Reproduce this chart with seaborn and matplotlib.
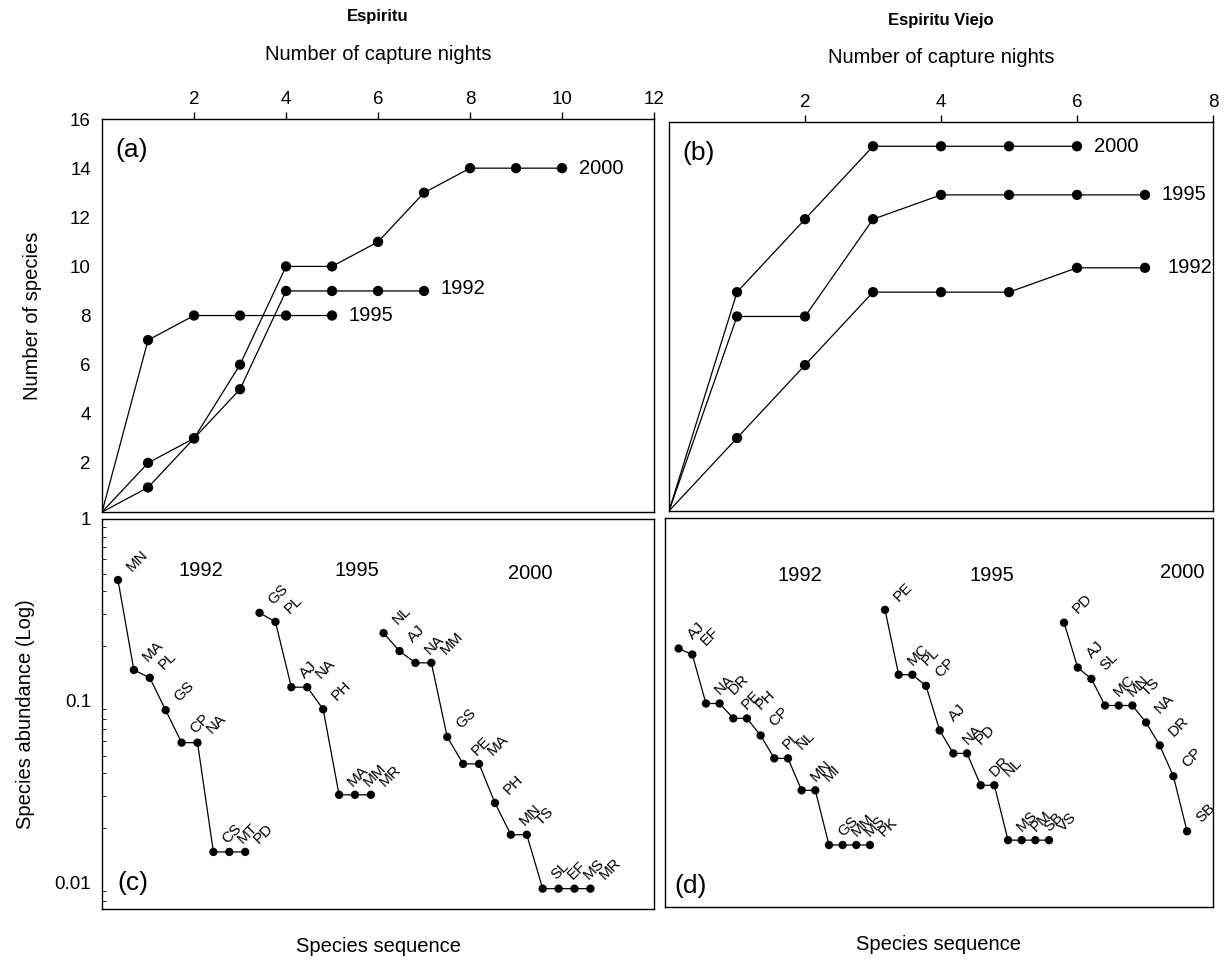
import numpy as np
import pandas as pd
import matplotlib
matplotlib.use("Agg")
import matplotlib.pyplot as plt
import seaborn as sns

# Panel (a) - Espiritu, cumulative number of species per capture night
a_1992 = [0, 1, 3, 5, 9, 9, 9, 9]
a_1995 = [0, 7, 8, 8, 8, 8]
a_2000 = [0, 2, 3, 6, 10, 10, 11, 13, 14, 14, 14]

# Panel (b) - Espiritu Viejo
b_1992 = [0, 3, 6, 9, 9, 9, 10, 10]
b_1995 = [0, 8, 8, 12, 13, 13, 13, 13]
b_2000 = [0, 9, 12, 15, 15, 15, 15]

# Panel (c) - Espiritu, rank abundance
c_1992_sp = ["MN", "MA", "PL", "GS", "CP", "NA", "CS", "MT", "PD"]
c_1992_ab = [0.462, 0.148, 0.134, 0.089, 0.059, 0.059, 0.0148, 0.0148, 0.0148]
c_1995_sp = ["GS", "PL", "AJ", "NA", "PH", "MA", "MM", "MR"]
c_1995_ab = [0.305, 0.272, 0.119, 0.119, 0.090, 0.0305, 0.0305, 0.0305]
c_2000_sp = ["NL", "AJ", "NA", "MM", "GS", "PE", "MA", "PH", "MN", "TS",
             "SL", "EF", "MS", "MR"]
c_2000_ab = [0.236, 0.188, 0.162, 0.162, 0.0634, 0.0451, 0.0451, 0.0275,
             0.0184, 0.0184, 0.0093, 0.0093, 0.0093, 0.0093]

# Panel (d) - Espiritu Viejo, rank abundance
d_1992_sp = ["AJ", "EF", "NA", "DR", "PE", "PH", "CP", "PL", "NL", "MN", "MI",
             "GS", "MM", "MS", "PK"]
d_1992_ab = [0.191, 0.177, 0.0951, 0.0951, 0.0787, 0.0787, 0.0634, 0.0474,
             0.0474, 0.0316, 0.0316, 0.0158, 0.0158, 0.0158, 0.0158]
d_1995_sp = ["PE", "MC", "PL", "CP", "AJ", "NA", "PD", "DR", "NL", "MS", "PM",
             "SB", "VS"]
d_1995_ab = [0.312, 0.137, 0.137, 0.119, 0.0676, 0.0505, 0.0505, 0.0337,
             0.0337, 0.0168, 0.0168, 0.0168, 0.0168]
d_2000_sp = ["PD", "AJ", "SL", "MC", "MN", "TS", "NA", "DR", "CP", "SB"]
d_2000_ab = [0.265, 0.150, 0.130, 0.0927, 0.0927, 0.0927, 0.0748, 0.0559,
             0.0378, 0.0188]

years = ["1992", "1995", "2000"]
# first position of each year's sequence along the species axis
c_start = [1.0, 9.9, 17.7]
d_start = [1.0, 16.1, 29.2]


def nights_frame(series):
    rows = []
    for yr, vals in zip(years, series):
        for n, v in enumerate(vals):
            rows.append({"night": n, "species": v, "year": yr})
    return pd.DataFrame(rows)


def rank_frame(species, abund, starts):
    rows = []
    for yr, sp, ab, s0 in zip(years, species, abund, starts):
        for i, (name, v) in enumerate(zip(sp, ab)):
            rows.append({"pos": s0 + i, "abund": v, "code": name, "year": yr})
    return pd.DataFrame(rows)


df_a = nights_frame([a_1992, a_1995, a_2000])
df_b = nights_frame([b_1992, b_1995, b_2000])
df_c = rank_frame([c_1992_sp, c_1995_sp, c_2000_sp],
                  [c_1992_ab, c_1995_ab, c_2000_ab], c_start)
df_d = rank_frame([d_1992_sp, d_1995_sp, d_2000_sp],
                  [d_1992_ab, d_1995_ab, d_2000_ab], d_start)

sns.set_style("white")
plt.rcParams["font.family"] = ["Liberation Sans", "DejaVu Sans"]
plt.rcParams["axes.edgecolor"] = "black"
plt.rcParams["axes.linewidth"] = 1.0
for key in ["text.color", "axes.labelcolor", "xtick.color", "ytick.color"]:
    plt.rcParams[key] = "black"

fig = plt.figure(figsize=(12.28, 9.67), dpi=100)
ax_a = fig.add_axes([0.0831, 0.4705, 0.4495, 0.4064])
ax_b = fig.add_axes([0.5448, 0.4716, 0.4430, 0.4023])
ax_c = fig.add_axes([0.0831, 0.0600, 0.4495, 0.4033])
ax_d = fig.add_axes([0.5415, 0.0620, 0.4463, 0.4023])

TICK_FS = 13.5
LAB_FS = 14.5

# ---- top panels: accumulation curves
for ax, df, xmax, title in [(ax_a, df_a, 12, "Espiritu"),
                            (ax_b, df_b, 8, "Espiritu Viejo")]:
    sns.lineplot(data=df, x="night", y="species", units="year", estimator=None,
                 sort=False, color="black", lw=0.9, ax=ax, legend=False)
    sns.scatterplot(data=df[df["night"] > 0], x="night", y="species",
                    color="black", s=55, edgecolor="none", ax=ax,
                    legend=False, zorder=3)
    ax.set_xlim(0, xmax)
    ax.set_ylim(0, 16)
    ax.xaxis.tick_top()
    ax.set_xticks(np.arange(2, xmax + 1, 2))
    ax.tick_params(axis="x", direction="out", length=5, width=1,
                   labelsize=TICK_FS, pad=3)
    ax.set_xlabel("")
    ax.text(0.5, 1.165, "Number of capture nights", transform=ax.transAxes,
            ha="center", va="center", fontsize=LAB_FS)
    ax.text(0.5, 1.262, title, transform=ax.transAxes, ha="center",
            va="center", fontsize=12, fontweight="bold")
    # year tags at the end of each curve
    for yr in years:
        last = df[df["year"] == yr].iloc[-1]
        dx = 16 if (ax is ax_b and yr == "1992") else 12
        dy = 2 if (ax is ax_a and yr == "1992") else 0
        ax.annotate(yr, (last["night"], last["species"]), xytext=(dx, dy),
                    textcoords="offset points", ha="left", va="center",
                    fontsize=LAB_FS)

ax_a.set_yticks(np.arange(2, 17, 2))
ax_a.tick_params(axis="y", direction="out", length=5, width=1,
                 labelsize=TICK_FS, pad=3)
ax_a.set_ylabel("Number of species", fontsize=LAB_FS, labelpad=20)
ax_b.set_yticks([])
ax_b.set_ylabel("")

ax_a.text(0.025, 0.92, "(a)", transform=ax_a.transAxes, ha="left",
          va="center", fontsize=19)
ax_b.text(0.025, 0.92, "(b)", transform=ax_b.transAxes, ha="left",
          va="center", fontsize=19)

# ---- bottom panels: rank-abundance sequences
year_pos_c = [(0.179, 0.869), (0.462, 0.869), (0.775, 0.859)]
year_pos_d = [(0.246, 0.851), (0.597, 0.853), (0.943, 0.859)]

for ax, df, xmax, ypos in [(ax_c, df_c, 34.7, year_pos_c),
                           (ax_d, df_d, 40.1, year_pos_d)]:
    sns.lineplot(data=df, x="pos", y="abund", units="year", estimator=None,
                 sort=False, color="black", lw=0.9, ax=ax, legend=False)
    sns.scatterplot(data=df, x="pos", y="abund", color="black", s=36,
                    edgecolor="none", ax=ax, legend=False, zorder=3)
    ax.set_yscale("log")
    ax.set_ylim(0.00719, 1.0)
    ax.set_xlim(0, xmax)
    ax.set_xticks([])
    ax.set_xlabel("Species sequence", fontsize=LAB_FS, labelpad=20)
    for _, r in df.iterrows():
        ax.annotate(r["code"], (r["pos"], r["abund"]), xytext=(8, 8),
                    textcoords="offset points", rotation=45,
                    rotation_mode="anchor", ha="left", va="center",
                    fontsize=11)
    for yr, (tx, ty) in zip(years, ypos):
        ax.text(tx, ty, yr, transform=ax.transAxes, ha="center",
                va="center", fontsize=LAB_FS)

ax_c.set_yticks([1, 0.1, 0.01])
ax_c.set_yticklabels(["1", "0.1", "0.01"])
ax_c.tick_params(axis="y", which="major", direction="out", length=5, width=1,
                 labelsize=TICK_FS, pad=3)
ax_c.tick_params(axis="y", which="minor", direction="in", length=3,
                 width=0.6, left=True)
ax_c.set_ylabel("Species abundance (Log)", fontsize=LAB_FS, labelpad=14)
ax_d.set_yticks([])
ax_d.minorticks_off()
ax_d.set_ylabel("")

ax_c.text(0.028, 0.067, "(c)", transform=ax_c.transAxes, ha="left",
          va="center", fontsize=19)
ax_d.text(0.018, 0.054, "(d)", transform=ax_d.transAxes, ha="left",
          va="center", fontsize=19)

fig.savefig("out.png", dpi=100, facecolor="white")
